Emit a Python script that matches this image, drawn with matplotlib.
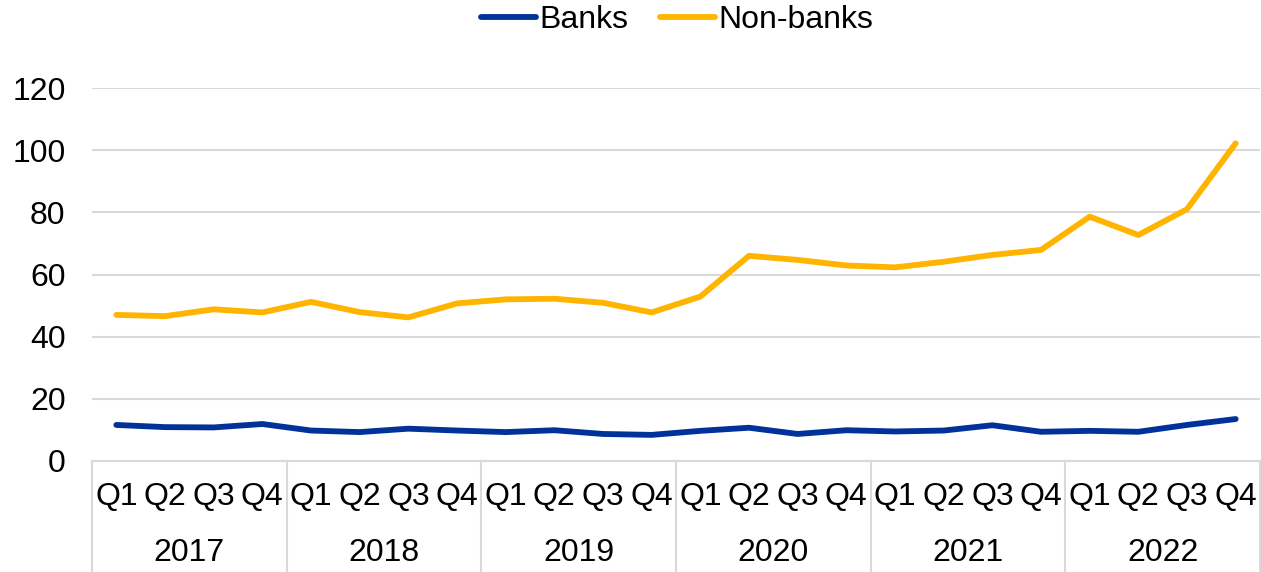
import matplotlib
matplotlib.use("Agg")
import matplotlib.pyplot as plt
import matplotlib.transforms as mtransforms

plt.rcParams['font.family'] = ['Liberation Sans', 'DejaVu Sans']

years = ["2017", "2018", "2019", "2020", "2021", "2022"]
quarters = ["Q1", "Q2", "Q3", "Q4"]
banks = [11.6, 10.9, 10.8, 11.9, 9.8, 9.3, 10.4, 9.8, 9.3, 9.9, 8.7, 8.4,
         9.7, 10.7, 8.7, 9.9, 9.5, 9.8, 11.5, 9.4, 9.7, 9.4, 11.6, 13.5]
nonbanks = [47.0, 46.6, 48.8, 47.8, 51.2, 47.9, 46.2, 50.7, 52.0, 52.2, 50.9, 47.8,
            52.9, 66.0, 64.7, 62.9, 62.3, 64.1, 66.3, 67.9, 78.6, 72.7, 81.0, 102.2]
yticks = [0, 20, 40, 60, 80, 100, 120]

BLUE = "#003299"
ORANGE = "#FFB400"
GRID = "#d9d9d9"
FS = 23

fig = plt.figure(figsize=(12.61, 5.72), dpi=100)
ax = fig.add_axes([92/1261, 1-461/572, (1260-92)/1261, (461-88)/572])

x = list(range(len(banks)))
ax.plot(x, banks, color=BLUE, lw=4.2, solid_capstyle='round', label="Banks")
ax.plot(x, nonbanks, color=ORANGE, lw=4.2, solid_capstyle='round', label="Non-banks")

ax.set_xlim(-0.5, len(banks) - 0.5)
ax.set_ylim(0, 120)
ax.set_yticks(yticks)
ax.set_yticklabels([str(v) for v in yticks], fontsize=FS)
ax.tick_params(axis='y', length=0, pad=19)
ax.grid(axis='y', color=GRID, lw=1.5)
ax.set_axisbelow(True)
ax.set_xticks([])
for s in ['left', 'right', 'top']:
    ax.spines[s].set_visible(False)
ax.spines['bottom'].set_color(GRID)
ax.spines['bottom'].set_linewidth(1.5)

trans = mtransforms.blended_transform_factory(ax.transData, ax.transAxes)
bottom = -(572 - 461) / (461 - 88)
for i in range(len(years) + 1):
    xs = i * 4 - 0.5
    ax.plot([xs, xs], [0, bottom], color=GRID, lw=1.5, transform=trans, clip_on=False)
for yi, yr in enumerate(years):
    for qi, q in enumerate(quarters):
        ax.text(yi * 4 + qi, -36/373, q, transform=trans, ha='center', va='center', fontsize=FS)
    ax.text(yi * 4 + 1.5, -92/373, yr, transform=trans, ha='center', va='center', fontsize=FS)

leg = fig.legend(loc='center', bbox_to_anchor=(677/1261, 1 - 20/572), ncol=2, frameon=False,
                 fontsize=FS, handlelength=1.72, handletextpad=0.1, columnspacing=1.0,
                 borderaxespad=0.0)

fig.savefig("out.png", dpi=100)
